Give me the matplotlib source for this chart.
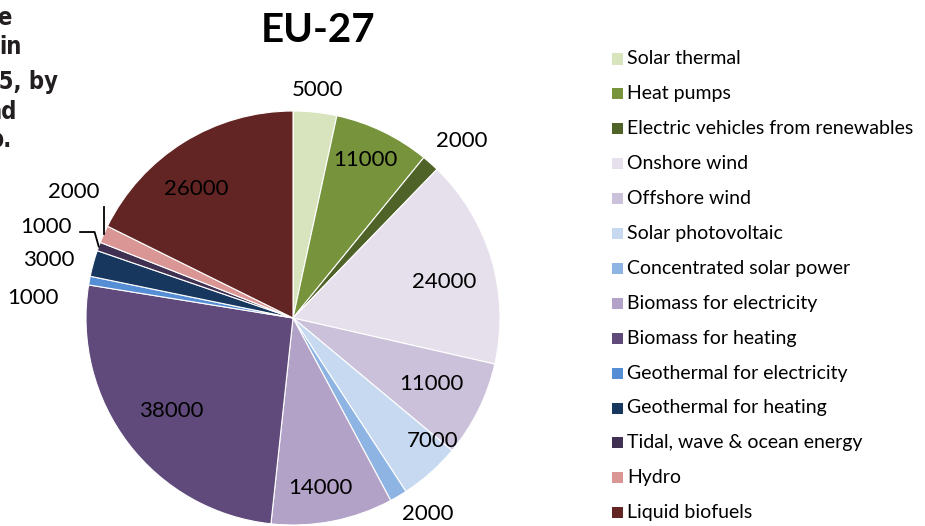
import numpy as np
import matplotlib.pyplot as plt
from matplotlib.patches import Rectangle

# Data
categories = ["Solar thermal", "Heat pumps", "Electric vehicles from renewables",
              "Onshore wind", "Offshore wind", "Solar photovoltaic",
              "Concentrated solar power", "Biomass for electricity",
              "Biomass for heating", "Geothermal for electricity",
              "Geothermal for heating", "Tidal, wave & ocean energy",
              "Hydro", "Liquid biofuels"]
values = [5000, 11000, 2000, 24000, 11000, 7000, 2000, 14000,
          38000, 1000, 3000, 1000, 2000, 26000]
title = "EU-27"
side_text = ["e", "in", "05, by", "nd", "p."]

colors = ["#d7e4bd", "#77933c", "#4f6228", "#e6e0ec", "#ccc1da", "#c6d9f1",
          "#8eb4e3", "#b3a2c7", "#604a7b", "#558ed5", "#17375e", "#403152",
          "#d99694", "#632523"]

# label placement (radius, angle shift in degrees) per wedge
label_r = [1.11, 0.84, 1.18, 0.75, 0.74, 0.90, 1.15, 0.83, 0.74, 1.26, 1.21, 1.27, 1.22, 0.78]
label_shift = [0, 1, -2, -3, 1, 7, 4, -2, 0, 6, 2, 0, -6, 5]

plt.rcParams['font.family'] = ['Lato', 'DejaVu Sans']

W, H = 925, 526
fig = plt.figure(figsize=(W / 100, H / 100), dpi=100)
R = 207.0
cx, cy = 293.0, 208.0
axw = 600
ax = fig.add_axes([0, 0, axw / W, 1])

wedges, _ = ax.pie(values, colors=colors, startangle=90, counterclock=False,
                   radius=1, wedgeprops=dict(edgecolor='white', linewidth=0.8))
ax.set_aspect('auto')
ax.set_xlim(-cx / R, (axw - cx) / R)
ax.set_ylim(-cy / R, (H - cy) / R)
ax.axis('off')

total = float(sum(values))
cum = np.cumsum([0] + values)
for i, v in enumerate(values):
    mid = 90 - (cum[i] + v / 2) / total * 360
    a = np.deg2rad(mid + label_shift[i])
    x, y = label_r[i] * np.cos(a), label_r[i] * np.sin(a)
    ax.text(x, y, f"{v}", ha='center', va='center', fontsize=16, color='black')

# leader lines for hydro and tidal
mid_h = np.deg2rad(90 - (cum[12] + values[12] / 2) / total * 360)
ex, ey = np.cos(mid_h), np.sin(mid_h)
ax.plot([ex, ex], [ey, ey + 0.13], color='black', lw=1.3)
mid_t = np.deg2rad(90 - (cum[11] + values[11] / 2) / total * 360)
ex, ey = np.cos(mid_t), np.sin(mid_t)
ax.plot([ex, ex - 0.02, ex - 0.09], [ey, ey + 0.07, ey + 0.07], color='black', lw=1.3)

# title
fig.text(318 / W, 1 - 30 / H, title, ha='center', va='center',
         fontsize=29, fontweight='bold')

# cut-off side text (the reference crops a longer caption here)
side_right = [12, 22, 58, 17, 12]
side_y = [18, 47, 82, 112, 140]
for t, xr, yy in zip(side_text, side_right, side_y):
    fig.text(xr / W, 1 - yy / H, t, ha='right', va='center', fontsize=17,
             fontweight='bold', color='#231f20', fontstretch='condensed',
             family=['DejaVu Sans'])

# legend
for i, (c, lab) in enumerate(zip(colors, categories)):
    yy = 59 + i * 34.9
    fig.patches.append(Rectangle(((612) / W, 1 - (yy + 5.5) / H), 11 / W, 11 / H,
                                 transform=fig.transFigure, facecolor=c,
                                 edgecolor='none'))
    fig.text(627 / W, 1 - yy / H, lab, ha='left', va='center', fontsize=14)

fig.savefig("out.png", dpi=100)
